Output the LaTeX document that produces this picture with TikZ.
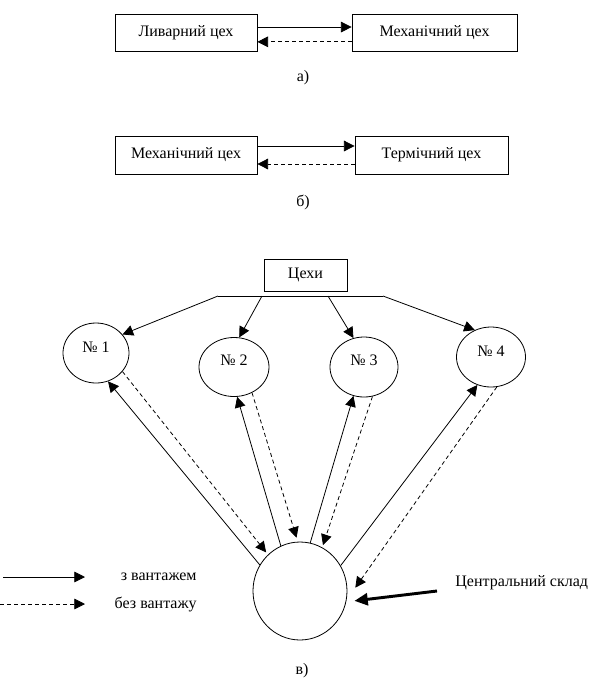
\documentclass[tikz,border=0pt]{standalone}
\usepackage{fontspec}
\setmainfont{Liberation Serif}
\usetikzlibrary{arrows.meta, shapes.geometric}

\begin{document}
\begin{tikzpicture}[x=0.75pt, y=-0.75pt, line width=0.6pt,
    >={Triangle[length=8pt, width=8pt]},
    txt/.style={font=\fontsize{12pt}{14pt}\selectfont, inner sep=0pt},
    shop/.style={draw, txt, minimum height=27.75pt},
    hub/.style={draw, ellipse, txt},
    empty/.style={dash pattern=on 3pt off 2.25pt}]
  \useasboundingbox (0,0) rectangle (610,694);

  % a) foundry <-> machine shop
  \node[shop, minimum width=106.5pt] (lit) at (186,32.5) {Ливарний цех};
  \node[shop, minimum width=123.75pt] (mech) at (434.5,32.5) {Механічний цех};
  \draw[->] ([yshift=4.1pt]lit.east) -- ([yshift=4.1pt]mech.west);
  \draw[->, empty] ([yshift=-7pt]mech.west) -- ([yshift=-7pt]lit.east);
  \node[txt] (capA) at (303,78) {а)};

  % b) machine shop <-> heat treatment
  \node[shop, minimum width=106.5pt, minimum height=28.5pt] (mech2) at (186,155) {Механічний цех};
  \node[shop, minimum width=114.75pt, minimum height=28.5pt] (term) at (431.5,155) {Термічний цех};
  \draw[->] ([yshift=6.75pt]mech2.east) -- ([yshift=6.75pt]term.west);
  \draw[->, empty] ([yshift=-6.75pt]term.west) -- ([yshift=-6.75pt]mech2.east);
  \node[txt] (capB) at (303,202) {б)};

  % c) shops and central store
  \node[shop, minimum width=62.25pt, minimum height=24pt] (shops) at (305.5,275) {Цехи};
  \coordinate (barL) at (218,296);
  \coordinate (barM2) at (262,296);
  \coordinate (barM3) at (328,296);
  \coordinate (barR) at (383,296);
  \draw (barL) -- (barR);

  \node[hub, minimum width=49.5pt, minimum height=45pt] (s1) at (96,353) {\raisebox{9pt}{№ 1}};
  \node[hub, minimum width=52.5pt, minimum height=44.25pt] (s2) at (234,367) {\raisebox{10pt}{№ 2}};
  \node[hub, minimum width=51pt, minimum height=45pt] (s3) at (364,367) {\raisebox{10pt}{№ 3}};
  \node[hub, minimum width=51.75pt, minimum height=45pt] (s4) at (491,357) {\raisebox{9pt}{№ 4}};
  \node[hub, minimum width=70.5pt, minimum height=73.5pt] (store) at (300,591) {};

  \draw[->] (barL) -- (s1.35);
  \draw[->] (barM2) -- (s2.80);
  \draw[->] (barM3) -- (s3.110);
  \draw[->] (barR) -- (s4.121);

  % loaded runs (solid) and empty returns (dashed)
  \draw[->] (store.147) -- (s1.-67);
  \draw[->, empty] (s1.-35) -- ([shift={(-2,-2)}]store.131);
  \draw[->] (store.113) -- (s2.-84);
  \draw[->, empty] (s2.-55) -- ([yshift=3pt]store.94);
  \draw[->] (store.78) -- (s3.-110);
  \draw[->, empty] (s3.-74) -- ([yshift=2pt]store.62);
  \draw[->] (store.32) -- (s4.-116);
  \draw[->, empty] (s4.-79) -- ([xshift=6pt]store.4);

  \node[txt, anchor=west] (storeLbl) at (455,583) {Центральний склад};
  \coordinate (storeTail) at (437,591);
  \draw[-{Triangle[length=10pt, width=9pt]}, line width=2.2pt] (storeTail) -- ([xshift=6pt]store.-12);

  % legend
  \coordinate (fullA) at (3,577);
  \coordinate (fullB) at (85,577);
  \coordinate (emptyA) at (0,604);
  \coordinate (emptyB) at (85,604);
  \draw[->] (fullA) -- (fullB);
  \draw[->, empty] (emptyA) -- (emptyB);
  \node[txt, anchor=east] (fullLbl) at (197,577) {з вантажем};
  \node[txt, anchor=east] (emptyLbl) at (197,604) {без вантажу};

  \node[txt] (capC) at (302,671) {в)};
\end{tikzpicture}
\end{document}
